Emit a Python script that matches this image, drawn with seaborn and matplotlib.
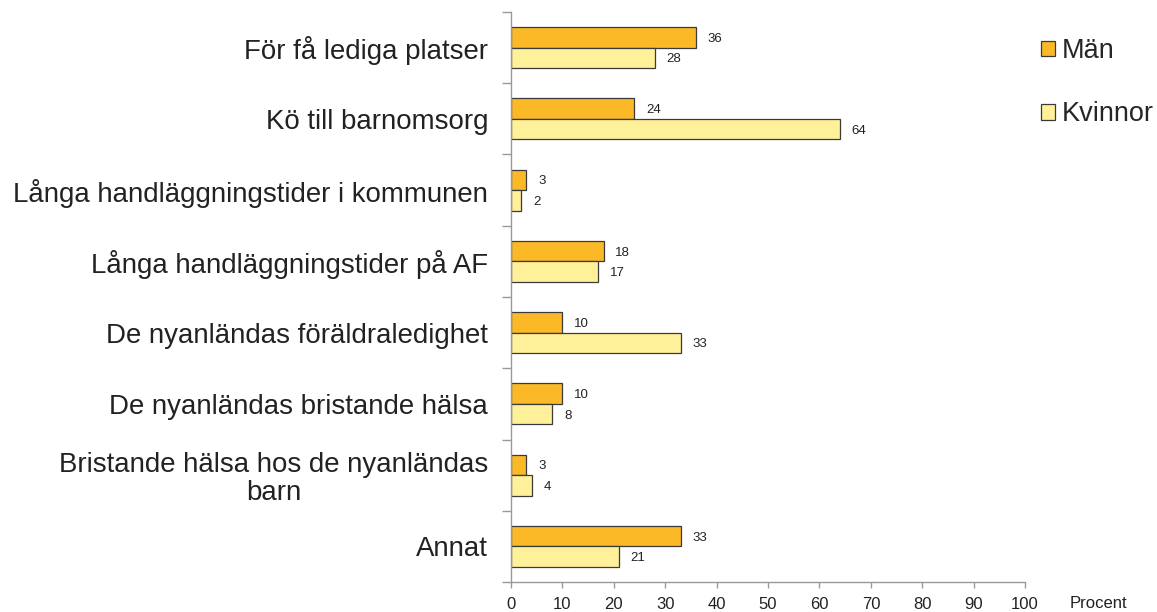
import matplotlib
matplotlib.use("Agg")
import matplotlib.pyplot as plt
import seaborn as sns
import pandas as pd
import numpy as np

categories = [
    "För få lediga platser",
    "Kö till barnomsorg",
    "Långa handläggningstider i kommunen",
    "Långa handläggningstider på AF",
    "De nyanländas föräldraledighet",
    "De nyanländas bristande hälsa",
    "Bristande hälsa hos de nyanländas\nbarn",
    "Annat",
]
man = [36, 24, 3, 18, 10, 10, 3, 33]
kvinnor = [28, 64, 2, 17, 33, 8, 4, 21]
series = ["Män", "Kvinnor"]
xticks = [0, 10, 20, 30, 40, 50, 60, 70, 80, 90, 100]

df = pd.DataFrame({
    "Kategori": categories * 2,
    "Grupp": [series[0]] * len(categories) + [series[1]] * len(categories),
    "Procent": man + kvinnor,
})

sns.set_style("white")
plt.rcParams["font.family"] = ["Liberation Sans", "DejaVu Sans"]

fig = plt.figure(figsize=(11.57, 6.12), dpi=100)
ax = fig.add_axes([0.4417, 0.049, 0.4443, 0.9314])

palette = {"Män": "#FBB927", "Kvinnor": "#FFF09A"}
sns.barplot(data=df, y="Kategori", x="Procent", hue="Grupp", order=categories,
            hue_order=series, palette=palette, orient="h", width=0.575,
            edgecolor="#3a3a3a", linewidth=0.9, saturation=1, ax=ax, legend=False)

# value labels just right of each bar
for cont in ax.containers:
    labels = ax.bar_label(cont, fmt="%d", padding=8.5, fontsize=9.5, color="#222222")
    for t in labels:
        t.set_verticalalignment("center_baseline")

ax.set_xlim(0, 100)
ax.set_ylim(len(categories) - 0.5, -0.5)
ax.set_xticks(xticks)
ax.set_xticklabels([str(t) for t in xticks], fontsize=12, color="#222222")
ax.set_xlabel("")
ax.set_ylabel("")

# category labels at band centres, boundary tick marks as minor ticks
ax.set_yticks(np.arange(len(categories)))
ax.set_yticklabels(categories, fontsize=19.9, color="#222222", multialignment="center",
                   linespacing=1.1)
ax.set_yticks(np.arange(len(categories) + 1) - 0.5, minor=True)
ax.tick_params(axis="y", which="major", length=0, pad=16.5)
ax.tick_params(axis="y", which="minor", length=6.5, color="#999999", width=1, direction="out", left=True)
ax.tick_params(axis="x", which="major", length=4, color="#999999", width=1, direction="out", bottom=True, pad=7)

for side in ["top", "right"]:
    ax.spines[side].set_visible(False)
for side in ["left", "bottom"]:
    ax.spines[side].set_color("#999999")
    ax.spines[side].set_linewidth(1)

fig.text(1070 / 1157, 1 - 608 / 612, "Procent", fontsize=12, color="#222222", ha="left", va="baseline")

handles = [plt.Rectangle((0, 0), 1, 1, facecolor=palette[s], edgecolor="#3a3a3a", linewidth=0.9)
           for s in series]
fig.legend(handles, series, loc="upper left", bbox_to_anchor=(1041 / 1157, 1 - 38 / 612), frameon=False,
           fontsize=19.5, handlelength=0.52, handleheight=0.52, handletextpad=0.26,
           labelspacing=1.38, borderpad=0, borderaxespad=0)

fig.savefig("out.png", dpi=100)
